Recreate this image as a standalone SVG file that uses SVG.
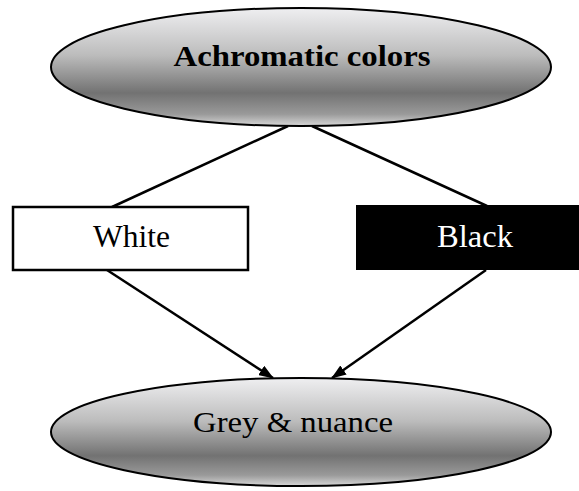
<svg xmlns="http://www.w3.org/2000/svg" width="579" height="491" viewBox="0 0 579 491">
  <style>
    .oval { fill: url(#grey); stroke: #000; stroke-width: 2; }
    .lbl { font-family: "Liberation Serif", "Times New Roman", serif; font-size: 30px; text-anchor: middle; }
    .box { font-size: 32px; }
    .conn { stroke: #000; stroke-width: 2.5; fill: none; }
  </style>
  <defs>
    <linearGradient id="grey" x1="0" y1="0" x2="0" y2="1">
      <stop offset="0" stop-color="#efeff1"/>
      <stop offset="0.4" stop-color="#bcbcbc"/>
      <stop offset="0.72" stop-color="#727272"/>
      <stop offset="0.9" stop-color="#9a9a9a"/>
      <stop offset="1" stop-color="#d8d8d8"/>
    </linearGradient>
    <marker id="arrow" markerUnits="userSpaceOnUse" markerWidth="15" markerHeight="11" refX="14" refY="5.5" orient="auto">
      <path d="M0,0 L15,5.5 L0,11 z" fill="#000"/>
    </marker>
  </defs>
  <rect width="579" height="491" fill="#fff"/>
  <g id="connectors">
    <line class="conn" x1="288" y1="126" x2="112" y2="207"/>
    <line class="conn" x1="312" y1="126" x2="487" y2="206"/>
    <line class="conn" x1="107" y1="270" x2="273" y2="378" marker-end="url(#arrow)"/>
    <line class="conn" x1="486" y1="270" x2="332" y2="378" marker-end="url(#arrow)"/>
  </g>
  <g id="achromatic">
    <ellipse class="oval" cx="301" cy="67" rx="250" ry="59"/>
    <text class="lbl" x="302" y="66" font-weight="bold" textLength="257" lengthAdjust="spacingAndGlyphs">Achromatic colors</text>
  </g>
  <g id="white">
    <rect x="13" y="207" width="235" height="63" fill="#fff" stroke="#000" stroke-width="2.5"/>
    <text class="lbl box" x="131.5" y="247" textLength="77" lengthAdjust="spacingAndGlyphs">White</text>
  </g>
  <g id="black">
    <rect x="356" y="205" width="240" height="65" fill="#000"/>
    <text class="lbl box" x="475" y="246.5" fill="#fff" textLength="76" lengthAdjust="spacingAndGlyphs">Black</text>
  </g>
  <g id="grey-nuance">
    <ellipse class="oval" cx="301" cy="432" rx="250" ry="54"/>
    <text class="lbl" x="293" y="432" textLength="200" lengthAdjust="spacingAndGlyphs">Grey &amp; nuance</text>
  </g>
</svg>
